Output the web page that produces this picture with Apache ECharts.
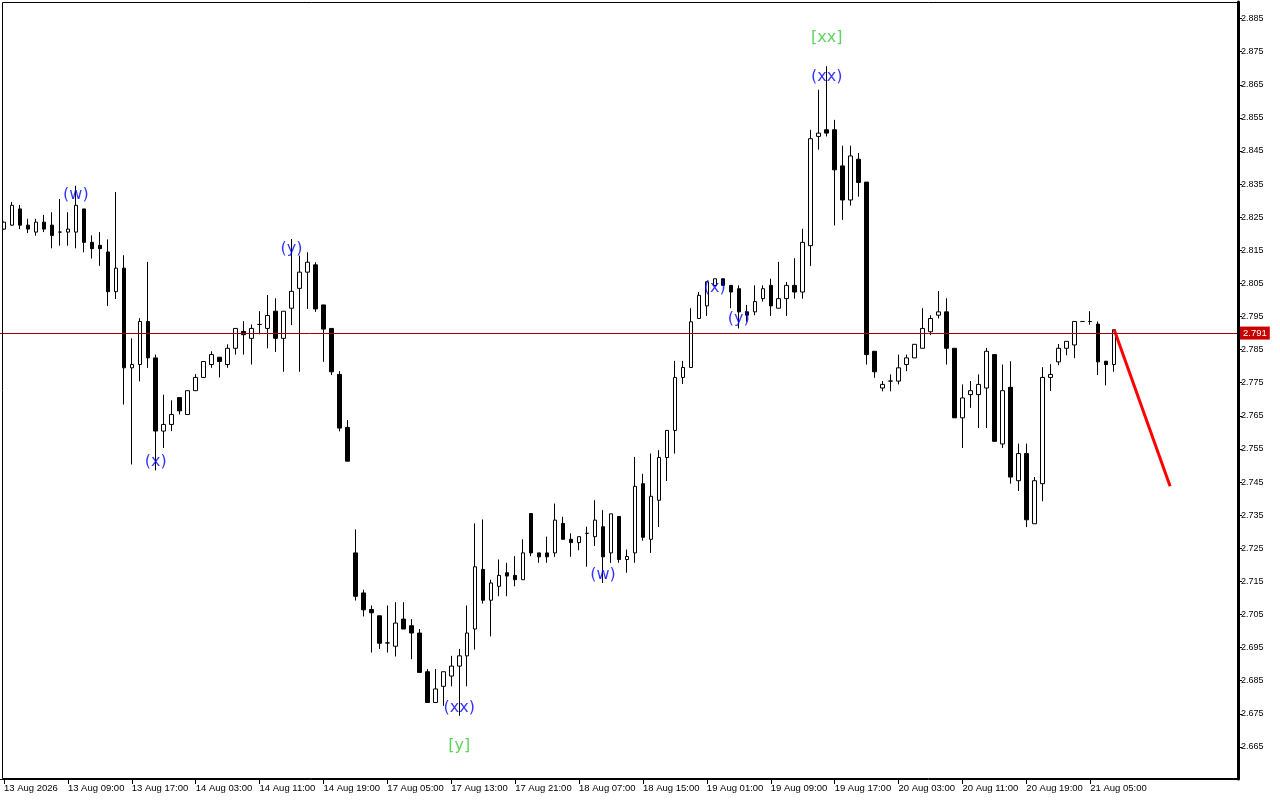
<!DOCTYPE html>
<html><head><meta charset="utf-8">
<script src="https://cdn.jsdelivr.net/npm/echarts@6/dist/echarts.min.js"></script>
<style>html,body{margin:0;padding:0;background:#fff}#c{width:1280px;height:800px}</style>
</head><body><div id="c"></div>
<script>
// ---- data ----
const opens = [2.8214,2.8226,2.8275,2.8226,2.8205,2.8235,2.8226,2.8205,2.8205,2.8205,
2.8275,2.8174,2.8165,2.8145,2.8025,2.8096,2.7795,2.7805,2.7935,2.7825,
2.7604,2.7624,2.7705,2.7654,2.7726,2.7766,2.7805,2.7827,2.7805,2.7854,
2.7905,2.7884,2.7926,2.7914,2.7966,2.7884,2.7975,2.8035,2.8084,2.8106,
2.7985,2.7914,2.7775,2.7615,2.7236,2.7115,2.7065,2.7046,2.6964,2.6954,
2.7036,2.7016,2.6994,2.6877,2.6784,2.6833,2.6864,2.6894,2.6925,2.7006,
2.7186,2.7093,2.7135,2.7176,2.7168,2.7155,2.7355,2.7236,2.7236,2.7236,
2.7325,2.7277,2.7267,2.7295,2.7285,2.7315,2.7236,2.7346,2.7216,2.7236,
2.7445,2.7277,2.7395,2.7524,2.7606,2.7766,2.7796,2.7944,2.7982,2.8044,
2.8064,2.8044,2.8034,2.7964,2.7964,2.8004,2.8044,2.7975,2.8004,2.8044,
2.8024,2.8164,2.8494,2.8514,2.8514,2.8405,2.8302,2.8425,2.8356,2.7845,
2.7734,2.7755,2.7755,2.7805,2.7825,2.7854,2.7904,2.7954,2.7964,2.7854,
2.7644,2.7714,2.7714,2.7734,2.7835,2.7565,2.7736,2.7454,2.7536,2.7324,
2.7445,2.7766,2.7813,2.7854,2.7864,2.7935,2.7935,2.7927,2.7815,2.7805];
const closes = [2.8235,2.8286,2.8226,2.8214,2.8235,2.8214,2.8195,2.8205,2.8214,2.8286,
2.8174,2.8155,2.8155,2.8025,2.8096,2.7795,2.7805,2.7935,2.7825,2.7604,
2.7624,2.7654,2.7665,2.7726,2.7766,2.7814,2.7835,2.7814,2.7854,2.7914,
2.7895,2.7914,2.7926,2.7953,2.7884,2.7966,2.8026,2.8084,2.8114,2.7973,
2.7912,2.7783,2.7613,2.7513,2.7105,2.7064,2.7055,2.6963,2.6964,2.7024,
2.7006,2.6994,2.6875,2.6784,2.6825,2.6877,2.6894,2.6925,2.6994,2.7194,
2.7093,2.7145,2.7168,2.7166,2.7155,2.7236,2.7236,2.7224,2.7224,2.7335,
2.7277,2.7267,2.7285,2.7295,2.7335,2.7224,2.7354,2.7216,2.7225,2.7437,
2.7283,2.7407,2.7524,2.7606,2.7766,2.7796,2.7934,2.8014,2.8055,2.8064,
2.8044,2.8024,2.7964,2.7954,2.7995,2.8034,2.7982,2.8004,2.8044,2.8024,
2.8174,2.8487,2.8504,2.8504,2.8393,2.8302,2.8435,2.8355,2.7835,2.7783,
2.7745,2.7755,2.7795,2.7825,2.7866,2.7914,2.7944,2.7964,2.7854,2.7644,
2.7704,2.7726,2.7745,2.7845,2.7573,2.7726,2.7465,2.7536,2.7336,2.7454,
2.7766,2.7775,2.7854,2.7875,2.7935,2.7935,2.7935,2.7813,2.7805,2.7910];
const lows = [2.8212,2.8224,2.8214,2.8202,2.8194,2.8205,2.8156,2.8164,2.8164,2.8156,
2.8144,2.8125,2.8103,2.7982,2.8003,2.7684,2.7503,2.7754,2.7795,2.7485,
2.7553,2.7604,2.7654,2.7654,2.7726,2.7766,2.7795,2.7766,2.7795,2.7835,
2.7835,2.7805,2.7896,2.7854,2.7843,2.7783,2.7924,2.7783,2.7973,2.7964,
2.7813,2.7773,2.7603,2.7513,2.7092,2.7044,2.6935,2.6946,2.6935,2.6923,
2.7006,2.6915,2.6875,2.6784,2.6784,2.6774,2.6833,2.6744,2.6833,2.6944,
2.7083,2.6984,2.7105,2.7105,2.7135,2.7155,2.7226,2.7206,2.7206,2.7224,
2.7277,2.7224,2.7244,2.7194,2.7257,2.7145,2.7206,2.7206,2.7176,2.7206,
2.7273,2.7236,2.7314,2.7453,2.7536,2.7746,2.7796,2.7944,2.7952,2.8044,
2.8044,2.7975,2.7914,2.7934,2.7954,2.7995,2.7952,2.7975,2.7952,2.8004,
2.8004,2.8103,2.8454,2.8494,2.8225,2.8242,2.8285,2.8312,2.7805,2.7765,
2.7724,2.7724,2.7745,2.7785,2.7825,2.7854,2.7894,2.7944,2.7805,2.7644,
2.7553,2.7674,2.7613,2.7613,2.7573,2.7553,2.7445,2.7423,2.7314,2.7324,
2.7392,2.7725,2.7803,2.7833,2.7824,2.7935,2.7925,2.7773,2.7742,2.7783];
const highs = [2.8237,2.8296,2.8287,2.8245,2.8245,2.8257,2.8265,2.8305,2.8265,2.8345,
2.8275,2.8195,2.8205,2.8183,2.8326,2.8135,2.7884,2.7945,2.8115,2.7835,
2.7714,2.7697,2.7705,2.7726,2.7776,2.7814,2.7845,2.7827,2.7866,2.7914,
2.7936,2.7926,2.7966,2.8015,2.8005,2.7966,2.8184,2.8134,2.8144,2.8114,
2.7985,2.7914,2.7785,2.7637,2.7307,2.7125,2.7077,2.7046,2.7077,2.7087,
2.7087,2.7036,2.7006,2.6885,2.6885,2.6877,2.6925,2.6946,2.7077,2.7325,
2.7337,2.7155,2.7216,2.7206,2.7226,2.7277,2.7355,2.7236,2.7285,2.7385,
2.7345,2.7295,2.7285,2.7315,2.7395,2.7365,2.7354,2.7346,2.7246,2.7526,
2.7475,2.7536,2.7546,2.7606,2.7816,2.7816,2.7975,2.8024,2.8055,2.8064,
2.8064,2.8044,2.8044,2.7985,2.8044,2.8044,2.8064,2.8115,2.8054,2.8126,
2.8215,2.8514,2.8635,2.8706,2.8544,2.8466,2.8466,2.8444,2.8356,2.7845,
2.7755,2.7775,2.7835,2.7835,2.7866,2.7975,2.7954,2.8027,2.8005,2.7854,
2.7745,2.7755,2.7775,2.7855,2.7835,2.7805,2.7815,2.7566,2.7566,2.7465,
2.7797,2.7806,2.7867,2.7875,2.7935,2.7935,2.7966,2.7935,2.7815,2.7910];

const tickLabels = ["13 Aug 2026","13 Aug 09:00","13 Aug 17:00","14 Aug 03:00","14 Aug 11:00",
"14 Aug 19:00","17 Aug 05:00","17 Aug 13:00","17 Aug 21:00","18 Aug 07:00","18 Aug 15:00",
"19 Aug 01:00","19 Aug 09:00","19 Aug 17:00","20 Aug 03:00","20 Aug 11:00","20 Aug 19:00","21 Aug 05:00"];
const priceTicks = [2.665,2.675,2.685,2.695,2.705,2.715,2.725,2.735,2.745,2.755,2.765,2.775,
2.785,2.795,2.805,2.815,2.825,2.835,2.845,2.855,2.865,2.875,2.885];
const currentPrice = 2.791;
const forecastIdx = [139, 146];
const forecastPrice = [2.791, 2.7437];
const waveIdx = [9, 19, 36, 57, 75, 89, 92, 103];
const wavePrice = [2.8316, 2.7510, 2.8154, 2.6768, 2.7171, 2.8038, 2.7942, 2.8675];
const waveText = ["(w)","(x)","(y)","(xx)","(w)","(x)","(y)","(xx)"];
const bracketIdx = [57, 103];
const bracketPrice = [2.6653, 2.8793];
const bracketText = ["[y]","[xx]"];
const slotCount = 155;
const barsPerTick = 8;

// ---- build ----
const cats = Array.from({length: slotCount}, (_, i) => String(i));
const candles = opens.map((o, i) => [o, closes[i], lows[i], highs[i]]);
const isTick = (i) => i % barsPerTick === 0 && (i / barsPerTick) < tickLabels.length;

const chart = echarts.init(document.getElementById('c'), null, {renderer: 'canvas'});
chart.setOption({
  animation: false,
  backgroundColor: '#ffffff',
  grid: {left: -2, right: 42, top: 2, bottom: 21, containLabel: false},
  xAxis: {
    type: 'category', data: cats, boundaryGap: true,
    axisLine: {show: true, onZero: false, lineStyle: {color: '#000', width: 1}},
    axisTick: {show: true, alignWithLabel: true, interval: isTick, length: 5, lineStyle: {color: '#000'}},
    axisLabel: {interval: isTick, formatter: (v, i) => tickLabels[i / barsPerTick] || '',
      align: 'left', margin: 4, fontSize: 9.5, fontFamily: 'Liberation Sans', color: '#000'},
    splitLine: {show: false}
  },
  yAxis: {
    type: 'value', position: 'right', min: 2.6553, max: 2.89, scale: true,
    splitLine: {show: false},
    axisLine: {show: true, onZero: false, lineStyle: {color: '#000', width: 3}},
    axisTick: {show: true, length: 4, customValues: priceTicks, lineStyle: {color: '#000'}},
    axisLabel: {customValues: priceTicks, formatter: v => v.toFixed(3), fontSize: 9,
      margin: 3, fontFamily: 'Liberation Sans', color: '#000'}
  },
  graphic: [{type: 'rect', z: 100, silent: true,
    shape: {x: 2.5, y: 2.5, width: 1235, height: 776},
    style: {fill: 'none', stroke: '#000', lineWidth: 1}}],
  series: [
    {type: 'line', z: 1, data: [[0, currentPrice]], showSymbol: false, lineStyle: {opacity: 0},
      silent: true,
      markLine: {symbol: ['none','none'], silent: true, animation: false,
        lineStyle: {color: '#a80000', width: 1, type: 'solid'},
        label: {show: true, position: 'end', distance: 2, formatter: currentPrice.toFixed(3),
          backgroundColor: '#c80000', color: '#fff', padding: [2,3,1,3], fontSize: 9.5,
          fontFamily: 'Liberation Sans'},
        data: [{yAxis: currentPrice}]}},
    {type: 'candlestick', z: 2, data: candles, barWidth: 4,
      itemStyle: {color: '#ffffff', color0: '#000000', borderColor: '#000000', borderColor0: '#000000', borderWidth: 1}},
    {type: 'line', z: 3, data: forecastIdx.map((x, i) => [x, forecastPrice[i]]), showSymbol: false,
      lineStyle: {color: '#ff0000', width: 3}},
    {type: 'scatter', z: 4, symbolSize: 1, itemStyle: {color: 'rgba(0,0,0,0)'},
      data: waveIdx.map((x, i) => [x, wavePrice[i], waveText[i]]),
      label: {show: true, position: 'inside', formatter: p => p.data[2], color: '#0000ff',
        fontSize: 16, fontFamily: 'DejaVu Sans'}},
    {type: 'scatter', z: 4, symbolSize: 1, itemStyle: {color: 'rgba(0,0,0,0)'},
      data: bracketIdx.map((x, i) => [x, bracketPrice[i], bracketText[i]]),
      label: {show: true, position: 'inside', formatter: p => p.data[2], color: '#32cd32',
        fontSize: 16, fontFamily: 'DejaVu Sans'}}
  ]
});
</script></body></html>
